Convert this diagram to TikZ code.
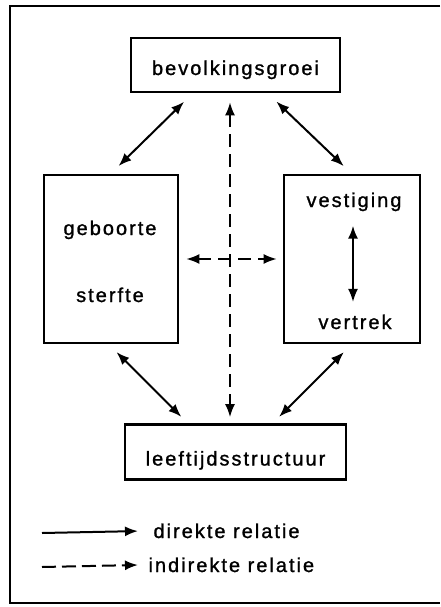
\documentclass[tikz,border=0pt]{standalone}
\usepackage{fontspec}
\setmainfont[LetterSpace=10, FakeBold=1.2]{Liberation Sans}
\usetikzlibrary{arrows.meta,calc}

\tikzset{
    blok/.style={draw, line width=2.6pt, inner sep=0pt},
    woord/.style={font=\fontsize{20}{24}\selectfont},
    pijl/.style={line width=2pt, -{Latex[length=13pt,width=10pt]}},
    direkt/.style={line width=2pt, {Latex[length=13pt,width=10pt]}-{Latex[length=13pt,width=10pt]}},
    indirekt/.style={direkt, dash pattern=on 13pt off 7pt},
}

\begin{document}
\begin{tikzpicture}[x=1pt, y=-1pt]
    \useasboundingbox (0,0) rectangle (440,607);
    % the frame round the figure
    \draw[line width=2.2pt] (440,6) -- (10,6) -- (10,603) -- (440,603);

    % the boxes
    \node[blok, woord, minimum width=209pt, minimum height=54pt, text height=20pt, text depth=0pt] (groei) at (235.5,65) {bevolkingsgroei};
    \node[blok, minimum width=134pt, minimum height=168pt] (natuur) at (111,259) {};
    \node[blok, minimum width=136pt, minimum height=168pt] (migratie) at (352,259) {};
    \node[blok, woord, minimum width=221pt, minimum height=55pt, text height=27pt, text depth=0pt] (leeftijd) at (235.5,452) {leeftijdsstructuur};

    % the texts in the two tall boxes
    \node[woord, anchor=base] (geboorte) at (110,235) {geboorte};
    \node[woord, anchor=base] (sterfte) at (110,302) {sterfte};
    \node[woord, anchor=base] (vestiging) at (354,207) {vestiging};
    \node[woord, anchor=base] (vertrek) at (355,329) {vertrek};

    % the direct relations
    \draw[direkt, shorten <=12pt, shorten >=11pt] ($(groei.south west)+(63,0)$) -- ($(natuur.north west)+(68,0)$);
    \draw[direkt, shorten <=12pt, shorten >=11pt] ($(groei.south west)+(138,0)$) -- ($(migratie.north west)+(69,0)$);
    \draw[direkt, shorten <=11pt, shorten >=9pt] ($(natuur.south west)+(66,0)$) -- ($(leeftijd.north west)+(64,0)$);
    \draw[direkt, shorten <=11pt, shorten >=9pt] ($(migratie.south west)+(69,0)$) -- ($(leeftijd.north west)+(149,0)$);
    \draw[direkt, shorten <=11pt, shorten >=9pt] ($(vestiging.south)+(-1,0)$) -- ($(vertrek.north)+(-2,0)$);

    % the indirect relations
    \draw[indirekt, shorten <=9pt, shorten >=6pt] ($(groei.south)+(-5.5,0)$) -- ($(leeftijd.north)+(-5.5,0)$);
    \draw[indirekt, shorten <=7pt, shorten >=6pt] (natuur.east) -- (migratie.west);

    % the legend
    \coordinate (dbegin) at (42,533);
    \coordinate (ibegin) at (42,567);
    \node[woord, anchor=base west] (dtekst) at (150,538) {direkte relatie};
    \node[woord, anchor=base west] (itekst) at (145,572) {indirekte relatie};
    \draw[pijl, shorten >=12pt] (dbegin) -- (dtekst.west);
    \draw[pijl, dash pattern=on 14pt off 6pt, shorten >=7pt] (ibegin) -- (itekst.west);
\end{tikzpicture}
\end{document}
